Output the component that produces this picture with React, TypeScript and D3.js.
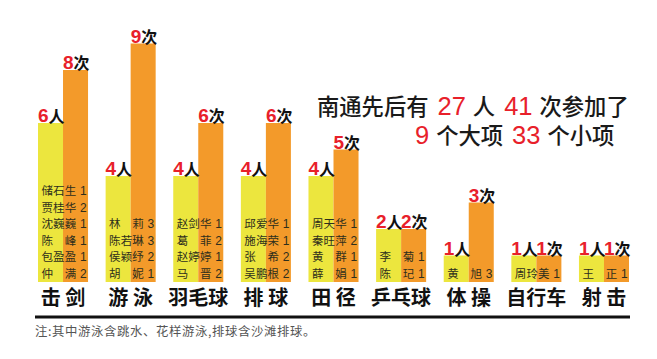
import React from "react";
import * as d3 from "d3";

const categories = ["击 剑", "游 泳", "羽毛球", "排 球", "田 径", "乒乓球", "体 操", "自行车", "射 击"];
const peopleCounts = [6, 4, 4, 4, 4, 2, 1, 1, 1];
const timeCounts = [8, 9, 6, 6, 5, 2, 3, 1, 1];
const athleteNames = [
  ["储石生", "贾桂华", "沈巍巍", "陈峰", "包盈盈", "仲满"],
  ["林莉", "陈若琳", "侯颖纾", "胡妮"],
  ["赵剑华", "葛菲", "赵婷婷", "马晋"],
  ["邱爱华", "施海荣", "张希", "吴鹏根"],
  ["周天华", "秦旺萍", "黄群", "薛娟"],
  ["李菊", "陈玘"],
  ["黄旭"],
  ["周玲美"],
  ["王正"],
];
const athleteTimes = [
  [1, 2, 1, 1, 1, 2],
  [3, 3, 2, 1],
  [1, 2, 1, 2],
  [1, 1, 2, 2],
  [1, 2, 1, 1],
  [1, 1],
  [3],
  [1],
  [1],
];
const headline1 = ["南通先后有", "27", "人", "41", "次参加了"];
const headline2 = ["9", "个大项", "33", "个小项"];
const footnote = "注:其中游泳含跳水、花样游泳,排球含沙滩排球。";

const YELLOW = "#ECE63E";
const ORANGE = "#F39A2A";
const RED = "#E8202A";
const CJK = "'Noto Sans CJK SC', sans-serif";
const LAT = "'Liberation Sans', Arial, sans-serif";
const HEAD = "'Liberation Sans', 'Noto Sans CJK SC', sans-serif";

const CJK_SIZE = 22.3;
const DIG_SIZE = 25.5;

function layoutLine(segs: string[], startX: number) {
  let cx = startX;
  return segs.map((s) => {
    const isDigit = /^\d+$/.test(s);
    const w = isDigit ? s.length * DIG_SIZE * 0.556 : Array.from(s).length * CJK_SIZE;
    const item = { s, x: cx, isDigit };
    cx += w + (isDigit ? 7 : 9);
    return item;
  });
}

export default function App() {
  const W = 657, H = 359;
  const x = d3.scaleBand<number>().domain(d3.range(categories.length)).range([38, 629]).paddingInner(0.26).paddingOuter(0);
  const y = d3.scaleLinear().domain([0, 9]).range([282, 43.5]);
  const bw = x.bandwidth() / 2;
  const rowH = 16.5;
  const lastBase = 277.5;

  const valueLabel = (xPos: number, val: number, unit: string, key: string) => (
    <g key={key} fontWeight="bold">
      <text x={xPos} y={y(val) - 1} fill={RED} fontFamily={LAT} fontSize={19}>{val}</text>
      <text x={xPos + 10.5} y={y(val) - 1} fill="#111" fontFamily={CJK} fontSize={16}>{unit}</text>
    </g>
  );

  const l1 = layoutLine(headline1, 317);
  const l2 = layoutLine(headline2, 415);

  return (
    <svg width={W} height={H} style={{ position: "absolute", left: 0, top: 0, background: "#fff" }}>
      {categories.map((c, i) => {
        const x0 = x(i)!;
        const names = athleteNames[i];
        const n = names.length;
        return (
          <g key={c}>
            <rect x={x0} y={y(peopleCounts[i])} width={bw} height={y(0) - y(peopleCounts[i])} fill={YELLOW} />
            <rect x={x0 + bw} y={y(timeCounts[i])} width={bw} height={y(0) - y(timeCounts[i])} fill={ORANGE} />
            {valueLabel(x0, peopleCounts[i], "人", "p")}
            {valueLabel(x0 + bw, timeCounts[i], "次", "t")}
            {names.map((nm, j) => {
              const base = lastBase - (n - 1 - j) * rowH;
              const chars = Array.from(nm);
              const slots = chars.length === 2 ? [chars[0], "", chars[1]] : chars;
              return (
                <g key={j} fill="#2e2e1c">
                  {slots.map((ch, k) => (
                    <text key={k} x={x0 + 3.5 + k * 11.6} y={base} fontFamily={CJK} fontSize={11.5}>{ch}</text>
                  ))}
                  <text x={x0 + 42} y={base} fontFamily={LAT} fontSize={12}>{athleteTimes[i][j]}</text>
                </g>
              );
            })}
            <text x={x0 + x.bandwidth() / 2} y={305} textAnchor="middle" fontFamily={CJK} fontWeight="bold" fontSize={20} fill="#111" style={{ whiteSpace: "pre" }}>{c}</text>
          </g>
        );
      })}
      <line x1={35} x2={630} y1={317} y2={317} stroke="#111" strokeWidth={3} />
      <text x={35} y={336} fontFamily={CJK} fontSize={12.4} letterSpacing={0.6} fill="#555">{footnote}</text>
      {l1.map((seg, i) => (
        <text key={"a" + i} x={seg.x} y={114.5} fill={seg.isDigit ? RED : "#1a1a1a"} fontFamily={seg.isDigit ? LAT : HEAD}
          fontSize={seg.isDigit ? DIG_SIZE : CJK_SIZE} fontWeight={seg.isDigit ? "normal" : 500}>{seg.s}</text>
      ))}
      {l2.map((seg, i) => (
        <text key={"b" + i} x={seg.x} y={143.5} fill={seg.isDigit ? RED : "#1a1a1a"} fontFamily={seg.isDigit ? LAT : HEAD}
          fontSize={seg.isDigit ? DIG_SIZE : CJK_SIZE} fontWeight={seg.isDigit ? "normal" : 500}>{seg.s}</text>
      ))}
    </svg>
  );
}
